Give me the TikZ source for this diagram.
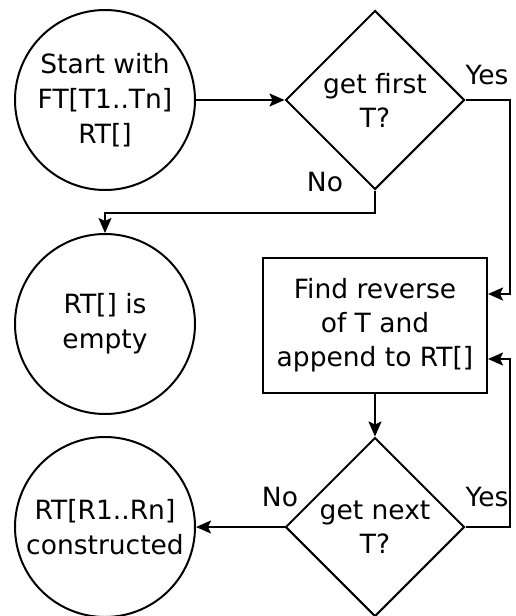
\documentclass[tikz,border=0pt]{standalone}
\usepackage{fontspec}
\setmainfont{DejaVu Sans}
\usepackage{tikz}
\usetikzlibrary{shapes,arrows.meta,positioning,calc}

\begin{document}
\begin{tikzpicture}[x=1pt, y=-1pt]
  \tikzstyle{state}=[circle, draw, line width=2pt, minimum size=180pt, inner sep=0pt, align=center, font=\fontsize{26.5}{35}\selectfont]
  \tikzstyle{decision}=[diamond, draw, line width=2pt, minimum width=179pt, minimum height=179pt, inner sep=0pt, align=center, font=\fontsize{26.5}{34}\selectfont]
  \tikzstyle{process}=[rectangle, draw, line width=2pt, minimum width=224pt, minimum height=135pt, align=center, font=\fontsize{26.5}{34}\selectfont]
  \tikzstyle{arr}=[line width=2pt, -{Stealth[length=15pt,width=13pt,inset=3pt]}]
  \tikzstyle{lbl}=[inner sep=0pt, font=\fontsize{26.5}{30}\selectfont]

  \useasboundingbox (0,0) rectangle (516,616);

  % Inicio
  \node[state] (start) at (105,100) {Start with\\FT[T1..Tn]\\RT[]};
  \node[decision] (first) at (375,100) {get first\\T?};

  % Vacio
  \node[state] (empty) at (105,324) {RT[] is\\empty};
  \node[process] (rev) at (375,325) {Find reverse\\of T and\\append to RT[]};

  % Fin
  \node[state] (done) at (105,527) {RT[R1..Rn]\\constructed};
  \node[decision] (next) at (375,527) {get next\\T?};

  % Flechas
  \draw[arr] (start) -- (first);
  \draw[arr] (first.east) -| ([xshift=22pt,yshift=31pt]rev.east) -- ([yshift=31pt]rev.east);
  \draw[arr] (first.south) -- ++(0,22) -| (empty.north);
  \draw[arr] (rev.south) -- (next.north);
  \draw[arr] (next.east) -| ([xshift=22pt,yshift=-34pt]rev.east) -- ([yshift=-34pt]rev.east);
  \draw[arr] (next.west) -- (done.east);

  % Etiquetas
  \node[lbl] (yes1) at (487,75) {Yes};
  \node[lbl] (no1) at (325,182) {No};
  \node[lbl] (no2) at (280,497) {No};
  \node[lbl] (yes2) at (487,497) {Yes};
\end{tikzpicture}
\end{document}
